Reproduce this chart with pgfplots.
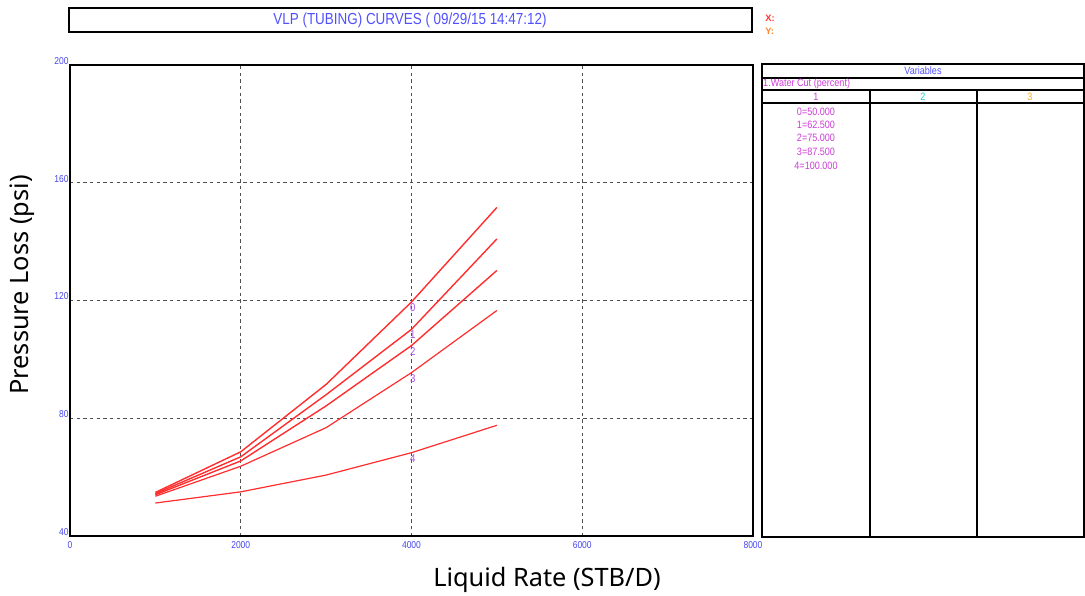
\documentclass[border=0pt]{standalone}
\usepackage{fontspec}
\setmainfont{Liberation Sans}
\newfontfamily\labelfont{Noto Sans}
\usepackage{pgfplots}
\pgfplotsset{compat=1.18}

\definecolor{tickblue}{RGB}{70,70,240}
\definecolor{titleblue}{RGB}{80,80,255}
\definecolor{curvered}{RGB}{255,45,45}
\definecolor{varmag}{RGB}{205,60,215}
\definecolor{tagviolet}{RGB}{165,80,230}
\definecolor{gridgray}{RGB}{80,80,80}
\definecolor{colcyan}{RGB}{40,200,210}
\definecolor{colorange}{RGB}{255,170,40}
\definecolor{xred}{RGB}{255,50,50}
\definecolor{yorange}{RGB}{255,130,40}

\begin{document}
\begin{tikzpicture}[x=0.75pt,y=0.75pt]
\path[use as bounding box] (0,0) rectangle (1085,596);
\coordinate (axsw) at (70,60);

% title bar
\draw[line width=1.1pt] (69,564) rectangle (752,588);
\node[text=titleblue, font=\fontsize{12}{14}\selectfont, xscale=0.84] at (410,576)
  {VLP (TUBING) CURVES ( 09/29/15 14:47:12)};
\node[text=xred, font=\bfseries\fontsize{7}{8}\selectfont, anchor=west, inner sep=0pt] at (765,578) {X:};
\node[text=yorange, font=\bfseries\fontsize{7}{8}\selectfont, anchor=west, inner sep=0pt] at (765,565) {Y:};

\begin{axis}[
  at={(axsw)}, anchor=south west,
  scale only axis, width=512.25pt, height=353.25pt,
  xmin=0, xmax=8000, ymin=40, ymax=200,
  xtick={0,2000,4000,6000,8000},
  ytick={40,80,120,160,200},
  grid=major,
  major grid style={draw=gridgray, dash pattern=on 2.6pt off 2.4pt, line width=0.75pt},
  axis line style={line width=1.7pt},
  major tick length=0pt,
  scaled x ticks=false,
  /pgf/number format/assume math mode=true,
  /pgf/number format/1000 sep={},
  tick label style={text=tickblue, font=\fontsize{7.5}{8}\selectfont, xscale=0.85},
  xticklabel style={inner sep=1pt, yshift=-3pt},
  yticklabel style={inner sep=1pt, yshift=3pt},
  clip=false,
]
\addplot[curvered, line width=1.05pt] coordinates {(1000,54.8)(2000,68.6)(3000,91.5)(4000,119.5)(5000,151.6)};
\addplot[curvered, line width=1.05pt] coordinates {(1000,54.4)(2000,66.9)(3000,88.0)(4000,110.2)(5000,140.9)};
\addplot[curvered, line width=1.05pt] coordinates {(1000,54.0)(2000,65.5)(3000,84.2)(4000,104.7)(5000,130.2)};
\addplot[curvered, line width=0.9pt] coordinates {(1000,53.5)(2000,63.7)(3000,76.8)(4000,95.5)(5000,116.6)};
\addplot[curvered, line width=0.9pt] coordinates {(1000,51.2)(2000,55.0)(3000,60.7)(4000,68.3)(5000,77.6)};
% curve index tags at 4000 STB/D
\addplot[draw=none, mark=none, nodes near coords, point meta=explicit symbolic,
  every node near coord/.style={anchor=north, text=tagviolet, inner sep=1pt, xshift=1pt,
  font=\fontsize{8.5}{9}\selectfont, xscale=0.85}]
  coordinates {(4000,119.5)[0] (4000,110.2)[1] (4000,104.7)[2] (4000,95.5)[3] (4000,68.3)[4]};
\end{axis}

% axis titles
\node[font=\labelfont\fontsize{19}{22}\selectfont] at (547,16) {Liquid Rate (STB/D)};
\node[font=\labelfont\fontsize{19}{22}\selectfont, rotate=90] at (22,311) {Pressure Loss (psi)};

% variables panel
\draw[line width=1.6pt] (762,59) rectangle (1084,532);
\draw[line width=0.8pt] (762,518) -- (1084,518);
\draw[line width=0.8pt] (762,506) -- (1084,506);
\draw[line width=1.1pt] (762,493) -- (1084,493);
\draw[line width=1.6pt] (870,506) -- (870,59);
\draw[line width=1.6pt] (977,506) -- (977,59);
\begin{scope}[every node/.style={font=\fontsize{8}{9}\selectfont, xscale=0.85, inner sep=0pt}]
\node[text=titleblue] at (923,525) {Variables};
\node[text=varmag, anchor=west] at (763,512) {1.Water Cut (percent)};
\node[text=varmag] at (816,499) {1};
\node[text=colcyan] at (923,499) {2};
\node[text=colorange] at (1030,499) {3};
\node[text=varmag] at (816,484) {0=50.000};
\node[text=varmag] at (816,471) {1=62.500};
\node[text=varmag] at (816,458) {2=75.000};
\node[text=varmag] at (816,444) {3=87.500};
\node[text=varmag] at (816,430) {4=100.000};
\end{scope}
\end{tikzpicture}
\end{document}
